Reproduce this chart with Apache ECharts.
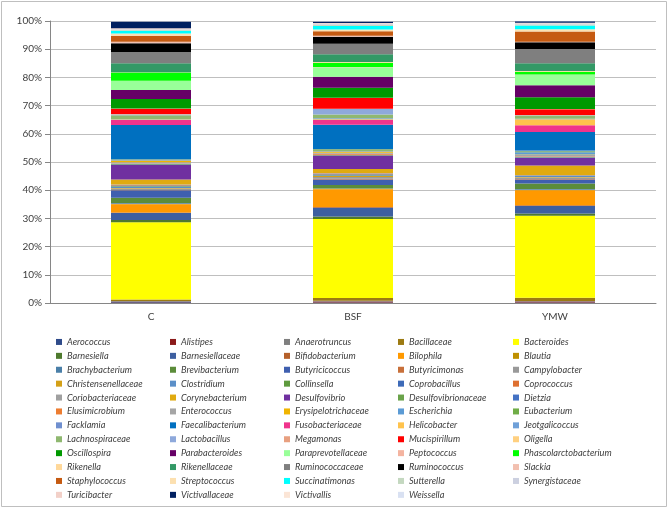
<!DOCTYPE html>
<html>
<head>
<meta charset="utf-8">
<script src="https://cdn.jsdelivr.net/npm/echarts@6/dist/echarts.min.js"></script>
<style>
html,body{margin:0;padding:0;background:#fff;}
#chart{width:669px;height:509px;}
</style>
</head>
<body>
<div id="chart"></div>
<script>
// Categories (x axis)
var categories = ['C', 'BSF', 'YMW'];

// Taxa, in stacking order (bottom to top) and legend order
var taxa = ['Aerococcus','Alistipes','Anaerotruncus','Bacillaceae','Bacteroides',
'Barnesiella','Barnesiellaceae','Bifidobacterium','Bilophila','Blautia',
'Brachybacterium','Brevibacterium','Butyricicoccus','Butyricimonas','Campylobacter',
'Christensenellaceae','Clostridium','Collinsella','Coprobacillus','Coprococcus',
'Coriobacteriaceae','Corynebacterium','Desulfovibrio','Desulfovibrionaceae','Dietzia',
'Elusimicrobium','Enterococcus','Erysipelotrichaceae','Escherichia','Eubacterium',
'Facklamia','Faecalibacterium','Fusobacteriaceae','Helicobacter','Jeotgalicoccus',
'Lachnospiraceae','Lactobacillus','Megamonas','Mucispirillum','Oligella',
'Oscillospira','Parabacteroides','Paraprevotellaceae','Peptococcus','Phascolarctobacterium',
'Rikenella','Rikenellaceae','Ruminococcaceae','Ruminococcus','Slackia',
'Staphylococcus','Streptococcus','Succinatimonas','Sutterella','Synergistaceae',
'Turicibacter','Victivallaceae','Victivallis','Weissella'];

// Relative abundance (%) per taxon, same order as taxa
var valuesC = [0.3,0.1,0.3,0.5,27.4,
0.8,2.5,0.2,2.9,0.2,
0.3,1.8,2.7,0.1,0.5,
0.2,0.5,0.2,0.2,0.1,
0.2,1.8,5.1,0.3,0.2,
0.1,0.4,0.6,0.2,0.2,
0.1,12.1,1.8,0.2,0.1,
1.4,0.2,0.2,1.9,0.1,
3.3,3.2,3.2,0.1,2.9,
0.1,3.2,4.0,3.1,0.5,
2.2,0.8,0.9,0.4,0.2,
0.3,2.4,0.1,0.1];

var valuesBSF = [0.2,0.3,0.3,1.0,28.0,
0.9,3.1,0.2,6.3,0.2,
0.1,1.2,2.0,0.3,0.6,
0.3,0.3,0.2,0.2,0.2,
0.2,1.4,4.8,0.2,0.1,
0.3,0.4,0.4,0.3,0.5,
0.1,8.6,1.7,0.3,0.3,
1.3,2.0,0.1,3.8,0.1,
3.5,3.9,3.4,0.1,1.5,
0.3,2.7,3.7,2.5,0.4,
1.6,0.6,1.2,0.5,0.3,
0.3,0.5,0.1,0.1];

var valuesYMW = [0.2,0.3,0.2,1.2,29.0,
0.8,2.7,0.3,5.3,0.2,
0.2,2.0,1.4,0.2,0.5,
0.2,0.3,0.1,0.1,0.1,
0.1,3.4,2.7,0.2,0.2,
0.1,0.5,0.2,0.8,0.3,
0.3,6.5,2.4,2.2,0.1,
1.2,0.1,0.1,2.0,0.1,
4.2,4.2,3.7,0.1,1.0,
0.3,2.7,5.1,2.4,0.1,
3.7,0.8,1.3,0.4,0.3,
0.3,0.5,0.05,0.05];

// Y axis tick labels
var yTicks = [0,10,20,30,40,50,60,70,80,90,100];

// Palette (style), one per taxon
var palette = ['#2F4B8A','#8B1A1A','#7F7F7F','#9C7A12','#FFFF00',
'#4E7A2E','#3D5FA0','#B5602A','#FF9900','#BF9000',
'#4A7FA8','#5B8C3A','#3F5FAF','#C8703A','#999999',
'#D4A017','#5B8FC8','#5E9A3E','#3D6AB8','#DE7030',
'#A0A0A0','#E0AA10','#7030A0','#6AA34A','#4472C4',
'#ED7D31','#A5A5A5','#F0B400','#5B9BD5','#70AD47',
'#6F8FCF','#0070C0','#F0348C','#FFC34D','#6FA0D8',
'#8FB870','#8EA9DB','#E8A080','#FF0000','#FFD080',
'#009900','#660066','#99FF99','#F4B4A0','#00FF00',
'#FFD89A','#339966','#7F7F7F','#000000','#F2C0B0',
'#C55A11','#FCE0B0','#00FFFF','#C4D8C0','#CCD0E0',
'#F2D0C8','#002060','#FBE5D6','#D9E1F2'];

var cols = [valuesC, valuesBSF, valuesYMW];
var totals = cols.map(function(a){ return a.reduce(function(s,v){return s+v;},0); });

var series = taxa.map(function(name, i){
  return {
    name: name,
    type: 'bar',
    stack: 'total',
    barWidth: 80,
    itemStyle: { color: palette[i] },
    emphasis: { disabled: true },
    data: cols.map(function(a, k){ return a[i] / totals[k] * 100; })
  };
});

var legendX = [56, 170, 284, 398, 513];
var legends = legendX.map(function(x, c){
  return {
    orient: 'vertical',
    left: x,
    top: 335,
    padding: 0,
    itemWidth: 6,
    itemHeight: 6,
    itemGap: 0,
    icon: 'rect',
    selectedMode: false,
    textStyle: { fontFamily: 'Lato', fontStyle: 'italic', fontSize: 9.2, color: '#404040', lineHeight: 13.9 },
    data: taxa.filter(function(t, i){ return i % 5 === c; })
  };
});

var chart = echarts.init(document.getElementById('chart'), null, { renderer: 'canvas' });
chart.setOption({
  animation: false,
  color: palette,
  graphic: [{
    type: 'rect',
    shape: { x: 1.5, y: 1.5, width: 665, height: 505 },
    style: { fill: 'none', stroke: '#BFBFBF', lineWidth: 1 },
    silent: true
  }],
  legend: legends,
  grid: { left: 50, right: 13, top: 21, bottom: 206, containLabel: false },
  xAxis: {
    type: 'category',
    data: categories,
    axisLine: { lineStyle: { color: '#868686' } },
    axisTick: { show: false },
    axisLabel: { color: '#404040', fontFamily: 'Lato', fontSize: 10, margin: 9 }
  },
  yAxis: {
    type: 'value',
    min: yTicks[0],
    max: yTicks[yTicks.length - 1],
    interval: 10,
    axisLine: { show: true, lineStyle: { color: '#868686' } },
    axisTick: { show: true, length: 5, lineStyle: { color: '#868686' } },
    axisLabel: { color: '#404040', fontFamily: 'Lato', fontSize: 10, margin: 8, formatter: '{value}%' },
    splitLine: { lineStyle: { color: '#BFBFBF', width: 1 } }
  },
  series: series
});
</script>
</body>
</html>
